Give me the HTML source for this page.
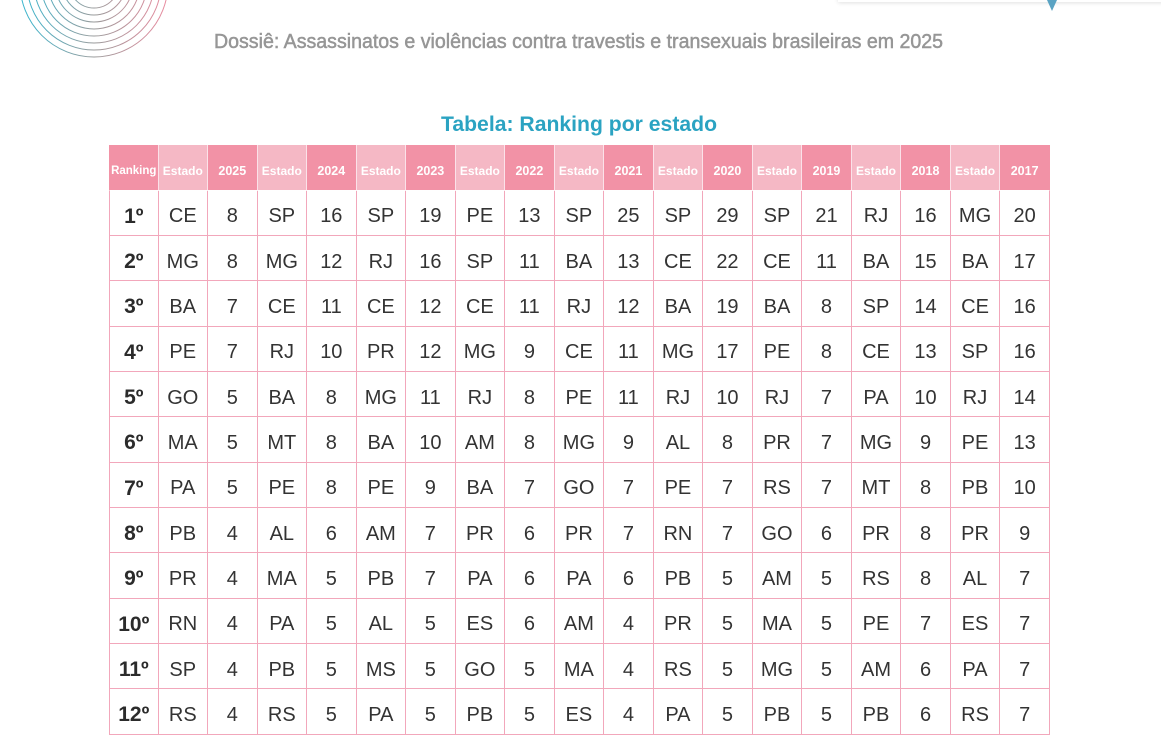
<!DOCTYPE html>
<html>
<head>
<meta charset="utf-8">
<style>
html,body{margin:0;padding:0;background:#fff;}
body{width:1161px;height:694px;overflow:hidden;position:relative;font-family:"Liberation Sans",sans-serif;}
#bg{position:absolute;left:0;top:0;}
#card{position:absolute;left:838px;top:-20px;width:340px;height:22px;background:#fff;box-shadow:0 1px 4px rgba(0,0,0,0.12);}
#tbl{position:absolute;left:109px;top:145px;}
table{border-spacing:0;table-layout:fixed;width:941px;}
tr.h{height:45.5px;}
th{background:#f292a6;color:#fff;font-weight:bold;font-size:12.5px;padding:7px 0 0 0;border-right:1px solid #fbe2e9;border-bottom:1px solid #fff;box-sizing:border-box;text-align:center;white-space:nowrap;overflow:hidden;}
th.l{background:#f5b8c5;font-size:12px;}
th:first-child{border-left:1px solid #f292a6;font-size:11.5px;}
th:last-child{border-right:1px solid #f292a6;}
td{padding:8px 0 0 0;text-align:center;font-size:20px;color:#333;border-right:1px solid #f2a7bb;border-bottom:1px solid #f2a7bb;box-sizing:border-box;}
td:first-child{border-left:1px solid #f2a7bb;font-weight:bold;font-size:21px;color:#2b2b2b;}
tr.r{height:45.35px;}
</style>
</head>
<body>
<div id="card"></div>
<svg id="bg" width="1161" height="694" xmlns="http://www.w3.org/2000/svg">
  <defs>
    <linearGradient id="g" x1="20" y1="0" x2="170" y2="0" gradientUnits="userSpaceOnUse">
      <stop offset="0" stop-color="#35b6cf"/>
      <stop offset="0.5" stop-color="#9a9a9a"/>
      <stop offset="1" stop-color="#ec8a9f"/>
    </linearGradient>
  </defs>
  <g fill="none" stroke="url(#g)" stroke-width="1">
    <circle cx="94" cy="-17" r="74"/>
    <circle cx="94" cy="-17" r="67"/>
    <circle cx="94" cy="-17" r="60"/>
    <circle cx="94" cy="-17" r="53"/>
    <circle cx="94" cy="-17" r="46"/>
    <circle cx="94" cy="-17" r="39"/>
    <circle cx="94" cy="-17" r="32"/>
    <circle cx="94" cy="-17" r="25"/>
  </g>
  <polygon points="1047,0 1057,0 1052,11" fill="#5aa3c3"/>
  <text x="214" y="48" font-family="Liberation Sans, sans-serif" font-size="20" fill="#969696" stroke="#969696" stroke-width="0.5" textLength="729" lengthAdjust="spacingAndGlyphs">Dossiê: Assassinatos e violências contra travestis e transexuais brasileiras em 2025</text>
  <text x="441" y="131" font-family="Liberation Sans, sans-serif" font-size="21" font-weight="bold" fill="#2ba3c2" textLength="276" lengthAdjust="spacingAndGlyphs">Tabela: Ranking por estado</text>
</svg>
<div id="tbl">
<table>
<tr class="h">
<th>Ranking</th><th class="l">Estado</th><th>2025</th><th class="l">Estado</th><th>2024</th><th class="l">Estado</th><th>2023</th><th class="l">Estado</th><th>2022</th><th class="l">Estado</th><th>2021</th><th class="l">Estado</th><th>2020</th><th class="l">Estado</th><th>2019</th><th class="l">Estado</th><th>2018</th><th class="l">Estado</th><th>2017</th>
</tr>
<tr class="r"><td>1º</td><td>CE</td><td>8</td><td>SP</td><td>16</td><td>SP</td><td>19</td><td>PE</td><td>13</td><td>SP</td><td>25</td><td>SP</td><td>29</td><td>SP</td><td>21</td><td>RJ</td><td>16</td><td>MG</td><td>20</td></tr>
<tr class="r"><td>2º</td><td>MG</td><td>8</td><td>MG</td><td>12</td><td>RJ</td><td>16</td><td>SP</td><td>11</td><td>BA</td><td>13</td><td>CE</td><td>22</td><td>CE</td><td>11</td><td>BA</td><td>15</td><td>BA</td><td>17</td></tr>
<tr class="r"><td>3º</td><td>BA</td><td>7</td><td>CE</td><td>11</td><td>CE</td><td>12</td><td>CE</td><td>11</td><td>RJ</td><td>12</td><td>BA</td><td>19</td><td>BA</td><td>8</td><td>SP</td><td>14</td><td>CE</td><td>16</td></tr>
<tr class="r"><td>4º</td><td>PE</td><td>7</td><td>RJ</td><td>10</td><td>PR</td><td>12</td><td>MG</td><td>9</td><td>CE</td><td>11</td><td>MG</td><td>17</td><td>PE</td><td>8</td><td>CE</td><td>13</td><td>SP</td><td>16</td></tr>
<tr class="r"><td>5º</td><td>GO</td><td>5</td><td>BA</td><td>8</td><td>MG</td><td>11</td><td>RJ</td><td>8</td><td>PE</td><td>11</td><td>RJ</td><td>10</td><td>RJ</td><td>7</td><td>PA</td><td>10</td><td>RJ</td><td>14</td></tr>
<tr class="r"><td>6º</td><td>MA</td><td>5</td><td>MT</td><td>8</td><td>BA</td><td>10</td><td>AM</td><td>8</td><td>MG</td><td>9</td><td>AL</td><td>8</td><td>PR</td><td>7</td><td>MG</td><td>9</td><td>PE</td><td>13</td></tr>
<tr class="r"><td>7º</td><td>PA</td><td>5</td><td>PE</td><td>8</td><td>PE</td><td>9</td><td>BA</td><td>7</td><td>GO</td><td>7</td><td>PE</td><td>7</td><td>RS</td><td>7</td><td>MT</td><td>8</td><td>PB</td><td>10</td></tr>
<tr class="r"><td>8º</td><td>PB</td><td>4</td><td>AL</td><td>6</td><td>AM</td><td>7</td><td>PR</td><td>6</td><td>PR</td><td>7</td><td>RN</td><td>7</td><td>GO</td><td>6</td><td>PR</td><td>8</td><td>PR</td><td>9</td></tr>
<tr class="r"><td>9º</td><td>PR</td><td>4</td><td>MA</td><td>5</td><td>PB</td><td>7</td><td>PA</td><td>6</td><td>PA</td><td>6</td><td>PB</td><td>5</td><td>AM</td><td>5</td><td>RS</td><td>8</td><td>AL</td><td>7</td></tr>
<tr class="r"><td>10º</td><td>RN</td><td>4</td><td>PA</td><td>5</td><td>AL</td><td>5</td><td>ES</td><td>6</td><td>AM</td><td>4</td><td>PR</td><td>5</td><td>MA</td><td>5</td><td>PE</td><td>7</td><td>ES</td><td>7</td></tr>
<tr class="r"><td>11º</td><td>SP</td><td>4</td><td>PB</td><td>5</td><td>MS</td><td>5</td><td>GO</td><td>5</td><td>MA</td><td>4</td><td>RS</td><td>5</td><td>MG</td><td>5</td><td>AM</td><td>6</td><td>PA</td><td>7</td></tr>
<tr class="r"><td>12º</td><td>RS</td><td>4</td><td>RS</td><td>5</td><td>PA</td><td>5</td><td>PB</td><td>5</td><td>ES</td><td>4</td><td>PA</td><td>5</td><td>PB</td><td>5</td><td>PB</td><td>6</td><td>RS</td><td>7</td></tr>
</table>
</div>
</body>
</html>
